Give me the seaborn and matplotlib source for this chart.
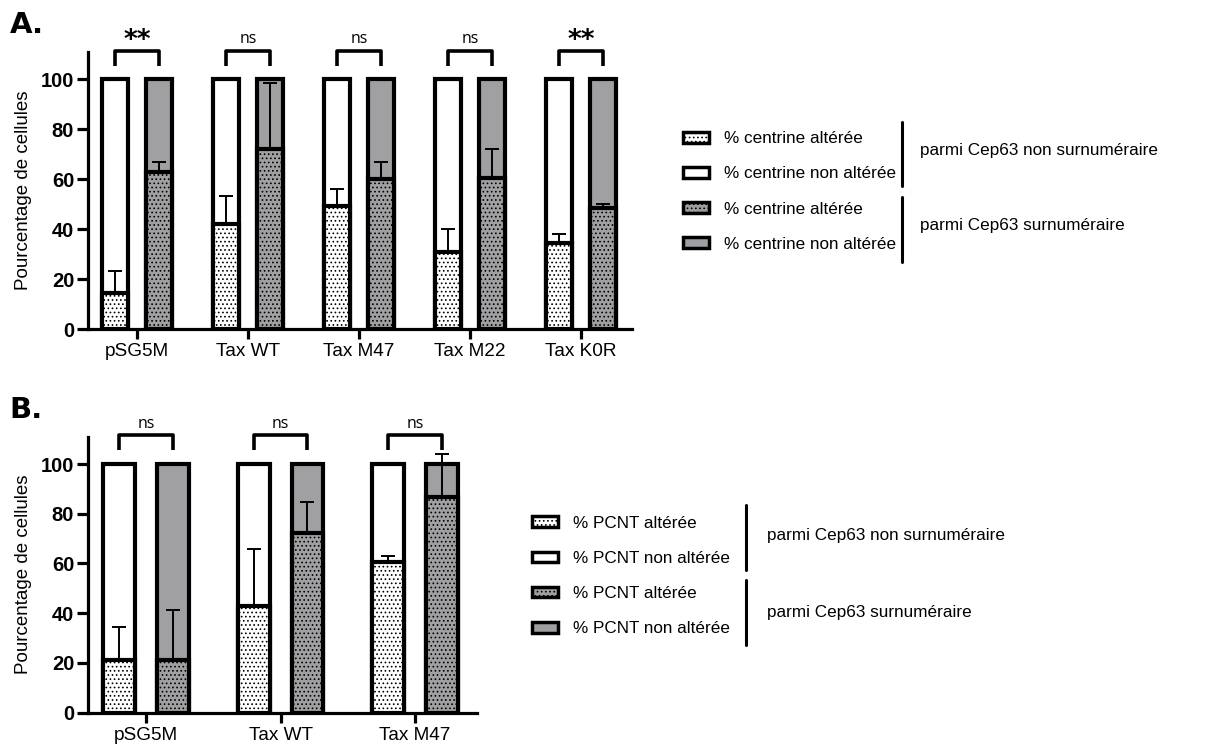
import matplotlib
matplotlib.use("Agg")
import matplotlib.pyplot as plt
import seaborn as sns
import numpy as np
import pandas as pd
from matplotlib.patches import Patch
from matplotlib.lines import Line2D

# ---- data ----
cats_a = ["pSG5M", "Tax WT", "Tax M47", "Tax M22", "Tax K0R"]
non_sur_alt_a = [14.3, 42.0, 49.3, 30.7, 34.3]
non_sur_err_a = [9.0, 11.3, 6.7, 9.3, 3.6]
sur_alt_a = [62.7, 72.3, 60.0, 60.5, 48.3]
sur_err_a = [4.3, 26.1, 7.0, 11.5, 1.8]
signif_a = ["**", "ns", "ns", "ns", "**"]

cats_b = ["pSG5M", "Tax WT", "Tax M47"]
non_sur_alt_b = [21.2, 42.9, 60.7]
non_sur_err_b = [13.1, 22.9, 2.4]
sur_alt_b = [21.2, 72.1, 86.6]
sur_err_b = [20.0, 12.5, 17.3]
signif_b = ["ns", "ns", "ns"]

series = ["non surnuméraire", "surnuméraire"]
legend_a = ["% centrine altérée", "% centrine non altérée",
            "% centrine altérée", "% centrine non altérée"]
legend_b = ["% PCNT altérée", "% PCNT non altérée",
            "% PCNT altérée", "% PCNT non altérée"]
group_labels = ["parmi Cep63 non surnuméraire", "parmi Cep63 surnuméraire"]

GREY = "#9f9fa3"
HATCH = "...."

sns.set_style("white")
plt.rcParams["font.family"] = ["Liberation Sans", "DejaVu Sans"]
plt.rcParams["hatch.linewidth"] = 0.7
for key in ["text.color", "axes.labelcolor", "xtick.color", "ytick.color"]:
    plt.rcParams[key] = "black"

LEG_FS = 12.3


def make_df(cats, alt_ns, alt_s):
    rows = []
    for c, a in zip(cats, alt_ns):
        rows.append({"group": c, "series": series[0], "total": 100, "alt": a})
    for c, a in zip(cats, alt_s):
        rows.append({"group": c, "series": series[1], "total": 100, "alt": a})
    return pd.DataFrame(rows)


def draw_panel(ax, cats, alt_ns, err_ns, alt_s, err_s, signif, xlim):
    df = make_df(cats, alt_ns, alt_s)
    pal = {series[0]: "white", series[1]: GREY}
    # full 100% bars (non altered part)
    sns.barplot(data=df, x="group", y="total", hue="series", palette=pal,
                edgecolor="black", linewidth=3, gap=0.41, errorbar=None,
                legend=False, ax=ax)
    # altered part drawn on top
    sns.barplot(data=df, x="group", y="alt", hue="series", palette=pal,
                edgecolor="black", linewidth=3, gap=0.41, errorbar=None,
                legend=False, ax=ax)
    for cont in ax.containers[2:]:
        for p in cont:
            p.set_hatch(HATCH)

    # error bars (upper only)
    for cont, vals, errs in zip(ax.containers[2:], [alt_ns, alt_s],
                                [err_ns, err_s]):
        xs = [p.get_x() + p.get_width() / 2 for p in cont]
        ax.errorbar(xs, vals, yerr=[np.zeros(len(vals)), errs], fmt="none",
                    ecolor="black", elinewidth=1.4, capsize=5, capthick=1.4,
                    zorder=5)

    # significance brackets
    for p1, p2, s in zip(ax.containers[0], ax.containers[1], signif):
        x1 = p1.get_x() + p1.get_width() / 2
        x2 = p2.get_x() + p2.get_width() / 2
        ax.plot([x1, x1, x2, x2], [105.5, 111.5, 111.5, 105.5], color="black",
                lw=2.6, clip_on=False, solid_capstyle="butt")
        if s == "ns":
            ax.text((x1 + x2) / 2, 116.2, s, ha="center", va="center",
                    fontsize=11.5, family="Open Sans")
        else:
            ax.text((x1 + x2) / 2, 115.2, s, ha="center", va="center",
                    fontsize=19, fontweight="bold", family="DejaVu Sans")

    ax.set_xlim(*xlim)
    ax.set_ylim(0, 111)
    ax.set_yticks([0, 20, 40, 60, 80, 100])
    ax.set_xlabel("")
    ax.set_ylabel("Pourcentage de cellules", fontsize=13.5, labelpad=6)
    sns.despine(ax=ax)
    for side in ["left", "bottom"]:
        ax.spines[side].set_linewidth(2.3)
        ax.spines[side].set_color("black")
    ax.tick_params(axis="y", length=8, width=2.3, labelsize=14.5, pad=2,
                   left=True)
    ax.tick_params(axis="x", length=7, width=2.3, labelsize=13.7, pad=3,
                   bottom=True)
    for lab in ax.get_yticklabels():
        lab.set_fontweight("bold")


def draw_legend(fig, anchor, labels, vx, vbars, tx, ty):
    handles = [
        Patch(facecolor="white", edgecolor="black", linewidth=2.5, hatch=HATCH),
        Patch(facecolor="white", edgecolor="black", linewidth=2.5),
        Patch(facecolor=GREY, edgecolor="black", linewidth=2.5, hatch=HATCH),
        Patch(facecolor=GREY, edgecolor="black", linewidth=2.5),
    ]
    fig.legend(handles=handles, labels=labels, loc="center left",
               bbox_to_anchor=anchor, frameon=False, fontsize=LEG_FS,
               handlelength=1.53, handleheight=0.59, handletextpad=0.85,
               labelspacing=1.18, borderpad=0, borderaxespad=0)
    for (y0, y1) in vbars:
        fig.add_artist(Line2D([vx, vx], [y0, y1], color="black", lw=2.2,
                              transform=fig.transFigure))
    for y, t in zip(ty, group_labels):
        fig.text(tx, y, t, fontsize=LEG_FS, va="center", ha="left")


fig = plt.figure(figsize=(12.28, 7.49), dpi=100)
ax_a = fig.add_axes([0.0717, 0.5607, 0.443, 0.370])
ax_b = fig.add_axes([0.0717, 0.0485, 0.3168, 0.3685])

draw_panel(ax_a, cats_a, non_sur_alt_a, non_sur_err_a, sur_alt_a, sur_err_a,
           signif_a, (-0.441, 4.459))
draw_panel(ax_b, cats_b, non_sur_alt_b, non_sur_err_b, sur_alt_b, sur_err_b,
           signif_b, (-0.431, 2.461))

draw_legend(fig, (0.5562, 0.7443), legend_a, 0.7345,
            [(0.8371, 0.7517), (0.7370, 0.6502)], 0.7492, [0.7997, 0.6983])
draw_legend(fig, (0.4332, 0.2310), legend_b, 0.6075,
            [(0.3258, 0.2390), (0.2256, 0.1389)], 0.6246, [0.2844, 0.1829])

fig.text(0.008, 1 - 33 / 749, "A.", fontsize=21, fontweight="heavy",
         family="DejaVu Sans", va="baseline", ha="left")
fig.text(0.008, 1 - 418 / 749, "B.", fontsize=21, fontweight="heavy",
         family="DejaVu Sans", va="baseline", ha="left")

fig.savefig("out.png", dpi=100)
